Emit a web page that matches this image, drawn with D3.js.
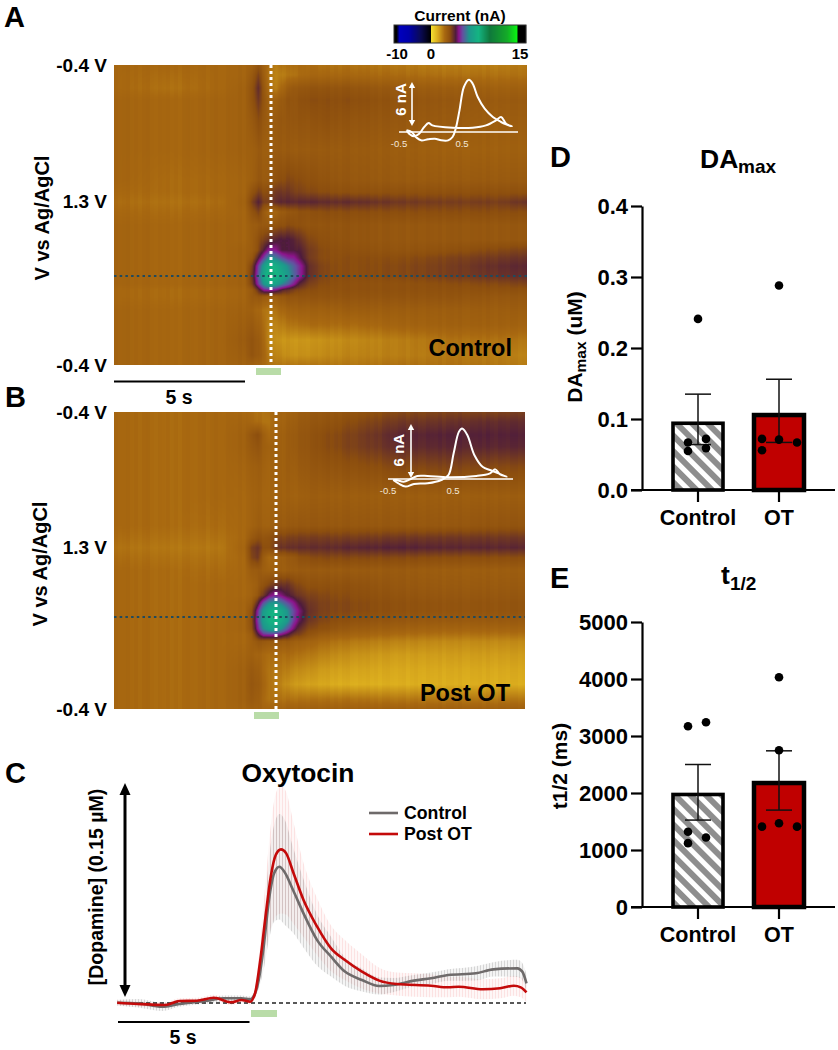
<!DOCTYPE html>
<html><head><meta charset="utf-8">
<script src="https://cdnjs.cloudflare.com/ajax/libs/d3/7.8.5/d3.min.js"></script>
<style>html,body{margin:0;padding:0;background:#fff}svg{display:block}text{font-family:"Liberation Sans",Arial,sans-serif;font-weight:700;fill:#000}</style>
</head><body>
<svg id="fig" width="838" height="1050" viewBox="0 0 838 1050"></svg>
<script>
// ---------- colour map (nA)
const currentStops=[-10,-9.3,-8.5,-6,-3,-0.05,0,1,2.15,3,3.9,4.4,5,6,7.5,9.3,12,13.5,13.8,15];
const currentColors=["#000000","#000000","#0000be","#0000aa","#0a0a5a","#000000","#f5e132","#dcae1e","#a86810","#8c4e0e","#4e1c3c","#8c148c","#6450a0","#1e968c","#14b482","#0f783c","#14aa28","#0af014","#000000","#000000"];
const colorbarTicks=[-10,0,15];
// ---------- heat-map grids
const timeGrid=[0,2.15,4.08,5.04,5.31,5.54,5.77,6,6.23,6.46,6.69,6.92,7.15,7.54,8.12,9.08,11,12.92,14.85,15.88];
const scanGrid=[0,3.3,7.7,11.7,18.3,28.3,38.3,42.3,45.7,49,53.3,58.3,61.7,64.3,67,70.3,73,75,77.3,81.7,86.7,91.7,96.7,100];
const currentControl=[
[2.2,2.2,2.2,2.3,2.4,2.8,2.4,2.0,1.8,2.0,2.0,2.1,2.1,2.1,2.0,2.0,1.9,1.8,1.8,1.9],
[2.2,2.1,2.2,2.3,2.6,3.2,2.5,1.9,1.7,1.8,1.9,2.0,2.1,2.2,2.2,2.2,2.1,2.0,2.0,2.0],
[2.2,2.0,2.2,2.4,2.8,3.6,2.7,2.0,1.8,2.2,2.5,2.7,2.7,2.8,2.8,2.8,2.6,2.5,2.4,2.4],
[2.3,2.2,2.3,2.4,2.8,3.4,2.8,2.3,2.4,2.6,2.8,2.8,2.9,3,3,3,2.8,2.7,2.6,2.6],
[2.3,2.2,2.3,2.4,2.6,3.0,2.7,2.5,2.6,2.7,2.7,2.8,2.8,2.8,2.9,2.8,2.7,2.6,2.5,2.5],
[2.3,2.2,2.3,2.4,2.4,2.6,2.5,2.5,2.6,2.6,2.6,2.6,2.6,2.6,2.6,2.6,2.5,2.4,2.4,2.4],
[2.3,2.1,2.2,2.3,2.4,2.7,2.6,2.7,2.9,3.0,3.1,3.1,3,2.9,2.8,2.7,2.6,2.6,2.6,2.6],
[2.2,2.1,2.2,2.3,2.8,3.2,3.0,3.1,3.4,3.4,3.4,3.3,3.2,3.1,3.0,2.9,2.9,2.9,2.9,2.9],
[2.1,2.0,2.1,2.4,3.2,3.8,3.3,3.3,3.6,3.7,3.7,3.7,3.7,3.7,3.6,3.6,3.4,3.3,3.3,3.5],
[2.2,2.1,2.2,2.3,2.8,3.2,2.6,2.2,2.3,2.6,2.7,2.8,2.9,2.9,3,3,3,3,3,3],
[2.3,2.2,2.3,2.3,2.5,2.6,2.7,2.7,2.8,2.9,3,3,2.9,2.8,2.8,2.8,2.7,2.7,2.7,2.7],
[2.3,2.2,2.3,2.3,2.5,2.9,3.3,3.6,3.8,3.9,3.9,3.8,3.5,3.1,2.9,2.8,2.7,2.7,2.7,2.7],
[2.3,2.2,2.3,2.4,2.5,3.0,3.9,4.6,4.4,3.9,3.9,3.9,3.8,3.3,3,2.9,2.8,2.9,3.1,3.2],
[2.3,2.2,2.3,2.4,2.7,3.8,4.9,6.1,5.6,5,4.6,4.5,4.0,3.3,3.0,3,3.0,3.2,3.4,3.5],
[2.3,2.2,2.3,2.4,3.2,4.8,6.4,7.7,7.2,6.5,5.8,5.2,4.6,3.5,3.1,3.0,3.1,3.3,3.6,3.7],
[2.3,2.2,2.3,2.4,3.4,5.0,6.9,8,7.6,7,6.2,5.3,4.6,3.5,3.1,3.0,3.1,3.3,3.5,3.6],
[2.3,2.2,2.3,2.4,3.2,4.7,6.1,7,6.5,5.8,5.2,4.5,3.7,3.2,3.0,2.9,2.9,3.0,3.1,3.2],
[2.2,2.1,2.2,2.3,2.6,3.5,4.5,4.6,4.3,3.8,3.5,3.3,3.1,3.0,2.9,2.9,2.9,2.9,2.9,2.9],
[2.2,2.1,2.2,2.3,2.6,2.7,2.6,2.5,2.5,2.7,2.8,2.8,2.8,2.8,2.8,2.8,2.8,2.8,2.7,2.7],
[2.3,2.2,2.3,2.4,2.4,2.2,2.0,1.9,2.0,2.2,2.3,2.4,2.4,2.4,2.4,2.5,2.5,2.5,2.5,2.5],
[2.3,2.2,2.3,2.5,2.6,2.4,2.1,1.7,1.7,1.8,1.9,2.0,2.0,2.1,2.1,2.1,2.3,2.4,2.4,2.3],
[2.3,2.2,2.3,2.6,2.8,2.6,2.2,1.6,1.5,1.4,1.4,1.4,1.4,1.4,1.5,1.6,1.8,2.0,2.0,1.9],
[2.3,2.2,2.3,2.5,2.8,2.6,2.3,1.8,1.7,1.6,1.5,1.5,1.5,1.5,1.6,1.7,1.8,1.9,1.8,1.7],
[2.3,2.2,2.3,2.4,2.4,2.3,2.2,2.0,1.9,1.9,1.9,1.9,1.9,1.9,1.9,1.9,2.0,2.0,1.9,1.8]];
const currentPostOT=[
[2.2,2.1,2.2,2.2,2.1,2.0,2.0,2.1,2.2,2.3,2.3,2.4,2.5,2.6,2.7,2.8,3.1,3.2,3.2,3.3],
[2.2,2.1,2.2,2.3,2.2,2.1,2,2,2.2,2.3,2.4,2.5,2.6,2.7,2.8,3.0,3.4,3.5,3.6,3.6],
[2.2,2.1,2.2,2.4,2.7,3,2.5,2.2,2.3,2.4,2.5,2.6,2.7,2.8,3.0,3.2,3.7,3.8,3.8,3.8],
[2.2,2.1,2.2,2.4,2.6,2.8,2.5,2.4,2.4,2.4,2.5,2.6,2.7,2.8,3.0,3.2,3.6,3.7,3.7,3.7],
[2.2,2.1,2.2,2.3,2.4,2.5,2.4,2.3,2.4,2.4,2.5,2.5,2.6,2.7,2.8,2.9,3.1,3.2,3.1,3.1],
[2.2,2.1,2.2,2.2,2.3,2.4,2.3,2.3,2.3,2.4,2.4,2.4,2.4,2.5,2.5,2.5,2.5,2.5,2.5,2.5],
[2.2,2.1,2.1,2.2,2.3,2.5,2.4,2.4,2.5,2.6,2.6,2.7,2.7,2.7,2.7,2.7,2.7,2.7,2.8,2.8],
[2.1,2.0,2.0,2.2,2.6,2.9,2.8,2.9,3.1,3.2,3.2,3.3,3.3,3.3,3.3,3.3,3.4,3.4,3.4,3.4],
[2.0,1.9,1.9,2.3,3.2,3.5,3,3,3.3,3.5,3.5,3.6,3.6,3.6,3.6,3.7,3.8,3.7,3.7,3.7],
[2.1,2.0,2.0,2.2,3.1,3.4,2.6,2.2,2.3,2.5,2.6,2.7,2.9,3,3.1,3.1,3.1,3.0,3,3],
[2.2,2.1,2.1,2.2,2.5,2.6,2.5,2.4,2.4,2.5,2.5,2.6,2.6,2.6,2.6,2.6,2.6,2.5,2.5,2.5],
[2.2,2.1,2.2,2.2,2.3,2.5,2.9,3.2,3.4,3.5,3.5,3.3,3.1,2.9,2.9,2.9,2.7,2.6,2.6,2.6],
[2.2,2.1,2.2,2.2,2.3,2.7,3.4,4.2,4.6,4.3,3.9,3.7,3.4,3.2,3.1,3,2.8,2.7,2.7,2.7],
[2.2,2.1,2.2,2.3,2.5,3.6,5,5.9,6.1,5.6,5,4.5,3.9,3.4,3.2,3.1,2.9,2.8,2.8,2.8],
[2.2,2.1,2.2,2.3,2.8,4.5,6.2,7.2,7.5,6.9,6,5,4.3,3.5,3.2,3.1,2.9,2.8,2.8,2.8],
[2.2,2.1,2.2,2.3,2.9,4.7,6.4,7.4,7.7,7.1,6.2,4.9,4.1,3.4,3.1,2.9,2.7,2.6,2.6,2.6],
[2.2,2.1,2.2,2.3,2.8,4.4,5.8,6.5,6.6,6,5.1,4.3,3.6,3.1,2.9,2.6,2.4,2.3,2.3,2.3],
[2.2,2.1,2.2,2.2,2.5,3.7,4.6,4.7,4.6,4.3,3.9,3.4,3.2,2.8,2.5,2.3,2.1,2,2,2],
[2.2,2.1,2.2,2.2,2.4,2.7,2.7,2.6,2.6,2.6,2.6,2.5,2.4,2.3,2.1,1.9,1.7,1.6,1.6,1.6],
[2.2,2.1,2.2,2.3,2.4,2.3,2.2,2.1,2.1,2.1,2.1,2.1,2,1.9,1.7,1.5,1.3,1.3,1.3,1.3],
[2.2,2.1,2.2,2.4,2.6,2.5,2.2,2,1.9,1.9,1.8,1.7,1.6,1.5,1.3,1.2,1.1,1.1,1.1,1.1],
[2.2,2.1,2.2,2.4,2.7,2.6,2.3,2,1.8,1.7,1.5,1.4,1.3,1.2,1.1,1,1,1,1,1],
[2.2,2.1,2.2,2.4,2.6,2.5,2.2,2,2,2,2,2,2,2,2,2,1.9,1.9,1.9,1.9],
[2.2,2.1,2.2,2.3,2.4,2.4,2.3,2.3,2.3,2.3,2.4,2.4,2.4,2.4,2.4,2.4,2.4,2.4,2.4,2.4]];
// faint per-sweep striping seen in the colour plots (nA)
const sweepStripes=[0.04,-0.02,0.01,0.05,-0.04,0.01,-0.05,0.03,0.06,-0.02,-0.04,0.02,0.0,0.04,-0.03,0.01,-0.06,0.03,0.05,-0.01,-0.03,0.02,0.04,-0.05,0.01,0.05,-0.02,-0.04,0.03,0.0,-0.02,0.04,-0.05,0.02,0.03,-0.01,0.05,-0.03,-0.04,0.02,0.01,0.04,-0.03,0.05,-0.01,-0.05,0.03,0.01,-0.02,0.04];
const voltageLabels=["-0.4 V","1.3 V","-0.4 V"];
// ---------- inset voltammograms (V, nA)
const cvVoltsA=[-0.38,-0.30,-0.22,-0.15,-0.04,0.07,0.17,0.28,0.35,0.40,0.46,0.53,0.61,0.67,0.75,0.86,0.99,1.12,1.20,1.29,1.20,1.12,1.04,0.88,0.67,0.35,0.03,-0.03,-0.10,-0.18,-0.26,-0.34,-0.38];
const cvCurrentA=[0.2,0,-0.68,-1,-0.88,-0.8,-1,-1,-0.6,0.4,2.6,5.4,6.28,5.8,4.2,2.8,1.8,1.2,0.92,0.68,1.0,1.8,1.4,0.8,0.52,0.52,0.8,1.08,0.6,-0.2,-0.52,-0.2,0.2];
const cvVoltsB=[-0.42,-0.34,-0.23,-0.10,0.11,0.32,0.43,0.51,0.59,0.64,0.72,0.83,0.96,1.07,1.2,1.33,1.22,1.15,1.07,0.86,0.43,0.11,-0.05,-0.16,-0.26,-0.37,-0.42];
const cvCurrentB=[-0.11,-0.47,-0.83,-0.54,-0.47,-0.11,0.43,2.8,5.14,5.5,4.8,2.6,1.3,0.98,0.62,0.25,0.54,1.05,0.62,0.33,0.18,0.33,0.33,-0.04,-0.29,-0.11,-0.11];
// ---------- panel C (s, µM)
const controlTime=[0,0.79,1.71,2.37,3.42,4.08,4.74,5.07,5.2,5.4,5.59,5.79,5.99,6.19,6.38,6.71,7.11,7.63,8.16,8.69,9.34,10,10.53,11.32,11.98,12.63,13.69,14.35,15.27,15.46,15.62];
const controlTrace=[0.0002,-0.0002,-0.0026,-0.0007,0.0016,0.0033,0.0033,0.0026,0.0044,0.0161,0.0395,0.0722,0.0909,0.0955,0.092,0.0792,0.0628,0.0441,0.0325,0.022,0.0161,0.0119,0.0126,0.0157,0.0173,0.0196,0.0208,0.0236,0.0243,0.022,0.0138];
const controlSem=[0.002,0.003,0.003,0.002,0.002,0.002,0.002,0.002,0.002,0.006,0.016,0.028,0.034,0.037,0.037,0.03,0.024,0.018,0.014,0.01,0.008,0.006,0.005,0.004,0.004,0.004,0.005,0.005,0.006,0.006,0.006];
const otTime=[0,0.79,1.84,2.37,3.03,3.69,4.34,4.74,5.07,5.26,5.46,5.66,5.86,6.05,6.25,6.45,6.71,7.11,7.63,8.16,8.69,9.34,10,10.66,11.98,12.63,13.03,13.95,14.61,15.14,15.4,15.62];
const otTrace=[0.0002,-0.0007,-0.0014,0.0014,0.0016,0.0037,0.0005,0.0021,0.0009,0.0068,0.0301,0.0605,0.0885,0.1037,0.1077,0.1049,0.092,0.0722,0.0535,0.0383,0.0301,0.022,0.0157,0.0133,0.0121,0.011,0.0114,0.0096,0.0103,0.0121,0.011,0.0075];
const otSem=[0.002,0.002,0.002,0.002,0.002,0.002,0.002,0.002,0.002,0.004,0.012,0.024,0.036,0.043,0.045,0.043,0.036,0.026,0.02,0.016,0.014,0.012,0.009,0.008,0.008,0.007,0.007,0.007,0.007,0.007,0.007,0.007];
const traceNames=["Control","Post OT"];
// ---------- bar panels
const groups=["Control","OT"];
const daMean=[0.094,0.1056], daUpper=[0.135,0.156], daLower=[0.064,0.067];
const daDots=[[[-10,0.067],[-10,0.055],[0,0.241],[8,0.072],[8,0.059]],[[-17,0.072],[-17,0.056],[0,0.071],[0,0.288],[18,0.067]]];
const daTicks=[0,0.1,0.2,0.3,0.4];
const halfMean=[1974,2175], halfUpper=[2500,2740], halfLower=[1525,1700];
const halfDots=[[[-10,3170],[-10,1320],[-10,1120],[8,3240],[8,1220]],[[-17,1410],[0,4030],[0,2750],[0,1470],[18,1410]]];
const halfTicks=[0,1000,2000,3000,4000,5000];

const svg=d3.select("#fig");
const defs=svg.append("defs");
const hatch=defs.append("pattern").attr("id","hatch").attr("patternUnits","userSpaceOnUse").attr("width",11).attr("height",11).attr("patternTransform","rotate(-45)");
hatch.append("rect").attr("width",11).attr("height",11).attr("fill","#fff");
hatch.append("rect").attr("width",6).attr("height",11).attr("fill","#8e8e8e");
[["semGrey","rgba(130,130,130,.27)"],["semRed","rgba(240,140,140,.2)"]].forEach(([id,c])=>{
  const p=defs.append("pattern").attr("id",id).attr("patternUnits","userSpaceOnUse").attr("width",3).attr("height",10);
  p.append("rect").attr("width",3).attr("height",10).attr("fill",id=="semGrey"?"rgba(150,150,150,.1)":"rgba(240,140,140,.07)");
  p.append("rect").attr("width",1).attr("height",10).attr("fill",c);
});
const color=d3.scaleLinear().domain(currentStops).range(currentColors).interpolate(d3.interpolateRgb).clamp(true);

function text(g,x,y,s,size,anchor,rot,fill){
  const t=g.append("text").attr("font-size",size).attr("text-anchor",anchor||"start").attr("dominant-baseline","central");
  if(rot) t.attr("transform",`translate(${x},${y}) rotate(${rot})`); else t.attr("x",x).attr("y",y);
  if(fill) t.style("fill",fill);
  t.text(s); return t;
}
function arrow(g,x,y0,y1,w,hw,hl,col){
  g.append("line").attr("x1",x).attr("x2",x).attr("y1",y0+hl-1).attr("y2",y1-hl+1).attr("stroke",col).attr("stroke-width",w);
  g.append("path").attr("fill",col).attr("d",`M${x},${y0}L${x-hw},${y0+hl}L${x+hw},${y0+hl}Z`);
  g.append("path").attr("fill",col).attr("d",`M${x},${y1}L${x-hw},${y1-hl}L${x+hw},${y1-hl}Z`);
}
function heat(matrix,o){
  const g=svg.append("g");
  const x=d3.scaleLinear().domain([0,15.88]).range([o.x0,o.x1]);
  const y=d3.scaleLinear().domain([0,100]).range([o.y0,o.y1]);
  const W=o.x1-o.x0,H=o.y1-o.y0;
  const cv=document.createElement("canvas");cv.width=W;cv.height=H;
  const ctx=cv.getContext("2d"),img=ctx.createImageData(W,H);
  for(let j=0;j<H;j++){
    const s=y.invert(o.y0+j+.5);
    const r=Math.min(d3.bisectRight(scanGrid,s)-1,scanGrid.length-2);
    const fy=(s-scanGrid[r])/(scanGrid[r+1]-scanGrid[r]);
    for(let i=0;i<W;i++){
      const t=x.invert(o.x0+i+.5);
      const c=Math.min(d3.bisectRight(timeGrid,t)-1,timeGrid.length-2);
      const fx=(t-timeGrid[c])/(timeGrid[c+1]-timeGrid[c]);
      const base=(matrix[r][c]*(1-fx)+matrix[r][c+1]*fx)*(1-fy)+(matrix[r+1][c]*(1-fx)+matrix[r+1][c+1]*fx)*fy;
      const v=base<3.9?base+sweepStripes[Math.floor(i/4)%sweepStripes.length]:base;
      const k=d3.rgb(color(v)),p=(j*W+i)*4;
      img.data[p]=k.r;img.data[p+1]=k.g;img.data[p+2]=k.b;img.data[p+3]=255;
    }
  }
  ctx.putImageData(img,0,0);
  g.append("image").attr("x",o.x0).attr("y",o.y0).attr("width",W).attr("height",H).attr("href",cv.toDataURL()).style("filter","blur(.5px)");
  g.append("line").attr("x1",o.x0).attr("x2",o.x1).attr("y1",o.dotY).attr("y2",o.dotY).attr("stroke","#1f4a5e").attr("stroke-width",2.2).attr("stroke-dasharray","2.5,3.2");
  g.append("line").attr("x1",o.dotX).attr("x2",o.dotX).attr("y1",o.y0).attr("y2",o.y1).attr("stroke","#fff").attr("stroke-width",3).attr("stroke-dasharray","3,3");
  g.append("rect").attr("x",o.gx).attr("y",o.y1+3).attr("width",25).attr("height",7).attr("fill","#b9dca8");
  [o.y0,(o.y0+o.y1)/2+(o.midOff||0),o.y1].forEach((yy,i)=>text(g,o.x0-7,yy,voltageLabels[i],19,"end"));
  text(g,o.vx,o.vy,"V vs Ag/AgCl",20,"middle",-90);
  text(g,o.x1-15,o.labelY,o.label,23.5,"end");
  // inset
  const ix=d3.scaleLinear().domain([-0.5,0.5]).range([o.cv.x,o.cv.x+o.cv.perV]);
  const iy=d3.scaleLinear().domain([0,6]).range([o.cv.y,o.cv.y-o.cv.six]);
  g.append("line").attr("x1",o.cv.x).attr("x2",o.cv.xEnd).attr("y1",iy(0)).attr("y2",iy(0)).attr("stroke","#fff").attr("stroke-width",1.4);
  arrow(g,o.cv.ax,iy(6),iy(0)-o.cv.gap,1.6,3.2,6,"#fff");
  g.append("path").datum(o.cv.v).attr("fill","none").attr("stroke","#fff").attr("stroke-width",2).attr("stroke-linejoin","round")
    .attr("d",d3.line().curve(d3.curveCatmullRom).x(d=>ix(d)).y((d,i)=>iy(o.cv.i[i])));
  text(g,ix(-0.5),iy(0)+11,"-0.5",9.5,"middle",null,"#f4e8d8").style("font-weight",400);
  text(g,ix(0.5),iy(0)+11,"0.5",9.5,"middle",null,"#f4e8d8").style("font-weight",400);
  text(g,o.cv.ax-o.cv.off,iy(o.cv.lab),"6 nA",15,"middle",-90,"#fff");
}
heat(currentControl,{x0:114,x1:527,y0:65,y1:365,dotX:271,dotY:276,gx:256,label:"Control",labelY:348,vx:42,vy:218,midOff:-14,
  cv:{x:399,perV:63,y:132,six:50,xEnd:518,ax:412,gap:6,off:12,lab:3.9,v:cvVoltsA,i:cvCurrentA}});
heat(currentPostOT,{x0:114,x1:525,y0:412,y1:709,dotX:276,dotY:617,gx:254,label:"Post OT",labelY:693,vx:40,vy:564,midOff:-13,
  cv:{x:388,perV:65,y:479,six:55,xEnd:513,ax:411,gap:1,off:13,lab:3.15,v:cvVoltsB,i:cvCurrentB}});
// colourbar
(function(){
  const g=svg.append("g");
  const x=d3.scaleLinear().domain([-10,0,15]).range([394,431,526]);
  const vals=d3.range(394,526).map(p=>x.invert(p+.5));
  g.selectAll("rect").data(vals).join("rect").attr("x",d=>Math.floor(x(d))).attr("y",25).attr("width",1.2).attr("height",18).attr("fill",d=>color(d));
  g.append("rect").attr("x",394).attr("y",25).attr("width",132).attr("height",18).attr("fill","none").attr("stroke","#333").attr("stroke-width",1);
  text(g,460,15,"Current (nA)",15.5,"middle");
  const pos=[397,431,520];
  colorbarTicks.forEach((t,i)=>text(g,pos[i],53,String(t),15,"middle"));
})();
// scale bars
function scale(g,x0,x1,y,ty,tx){g.append("line").attr("x1",x0).attr("x2",x1).attr("y1",y).attr("y2",y).attr("stroke","#000").attr("stroke-width",2);text(g,tx,ty,"5 s",19.5,"middle");}
scale(svg,114,245,381.5,397,179);
// panel labels
[["A",4,17],["B",5,397],["C",5,773],["D",550,157],["E",550,578]].forEach(d=>text(svg,d[1],d[2],d[0],29,"start"));
// panel C
(function(){
  const g=svg.append("g");
  const x=d3.scaleLinear().domain([0,15.62]).range([117.2,526.5]);
  const y=d3.scaleLinear().domain([0,0.15]).range([1003,789]);
  const band=(t,m,e,f)=>g.append("path").datum(t).attr("fill",`url(#${f})`).attr("d",d3.area().curve(d3.curveMonotoneX).x(d=>x(d)).y0((d,i)=>y(m[i]-e[i])).y1((d,i)=>y(m[i]+e[i])));
  band(otTime,otTrace,otSem,"semRed");
  band(controlTime,controlTrace,controlSem,"semGrey");
  g.append("line").attr("x1",118).attr("x2",526).attr("y1",y(0)).attr("y2",y(0)).attr("stroke","#222").attr("stroke-width",1.4).attr("stroke-dasharray","4,3");
  const ln=(t,m,c)=>g.append("path").datum(t).attr("fill","none").attr("stroke",c).attr("stroke-width",2.6).attr("d",d3.line().curve(d3.curveMonotoneX).x(d=>x(d)).y((d,i)=>y(m[i])));
  ln(controlTime,controlTrace,"#6e6a6a");
  ln(otTime,otTrace,"#c40a0a");
  g.append("rect").attr("x",251).attr("y",1010).attr("width",26).attr("height",7).attr("fill","#b9dca8");
  scale(g,118,249.5,1022,1037,183);
  arrow(g,125,783,997,3,5.5,12,"#000");
  text(g,298,773,"Oxytocin",26.4,"middle");
  text(g,96,887,"[Dopamine] (0.15 µM)",19.5,"middle",-90);
  [["#6e6a6a",813],["#c40a0a",834]].forEach((d,i)=>{
    g.append("line").attr("x1",369).attr("x2",398).attr("y1",d[1]).attr("y2",d[1]).attr("stroke",d[0]).attr("stroke-width",2.6);
    text(g,404,d[1],traceNames[i],17.7,"start");
  });
})();
// bars
function bars(o){
  const g=svg.append("g");
  const y=d3.scaleLinear().domain(o.domain).range([o.y0,o.y1]);
  const x=d3.scaleBand().domain(groups).range([657.5,819.5]);
  const cx=c=>x(c)+x.bandwidth()/2;
  const ya=g.append("g").attr("transform","translate(642,0)").call(d3.axisLeft(y).tickValues(o.ticks).tickSize(11).tickFormat(o.fmt).tickSizeOuter(0));
  ya.selectAll("line").attr("stroke","#000").attr("stroke-width",2.2);
  ya.select(".domain").attr("stroke","#000").attr("stroke-width",2.2);
  ya.selectAll("text").attr("font-size",22).attr("x",-14).style("font-family",'"Liberation Sans",Arial,sans-serif');
  g.selectAll("rect.b").data(groups).join("rect").attr("class","b").attr("x",c=>cx(c)-25).attr("width",50)
    .attr("y",(c,i)=>y(o.mean[i])).attr("height",(c,i)=>y(0)-y(o.mean[i]))
    .attr("fill",(c,i)=>i?"#c00000":"url(#hatch)").attr("stroke","#000").attr("stroke-width",(c,i)=>i?4.5:3.6);
  const xa=g.append("g").attr("transform",`translate(0,${o.y0})`).call(d3.axisBottom(x).tickSize(12).tickSizeOuter(0));
  xa.select(".domain").remove();
  xa.selectAll("line").attr("stroke","#000").attr("stroke-width",2.2);
  xa.selectAll("text").attr("font-size",21.5).attr("y",20).style("font-family",'"Liberation Sans",Arial,sans-serif').attr("dy",".71em");
  g.append("line").attr("x1",631).attr("x2",835).attr("y1",o.y0).attr("y2",o.y0).attr("stroke","#000").attr("stroke-width",2.2);
  groups.forEach((c,i)=>{
    const X=cx(c);
    g.append("line").attr("x1",X).attr("x2",X).attr("y1",y(o.upper[i])).attr("y2",y(o.lower[i])).attr("stroke","#111").attr("stroke-width",1.5);
    [o.upper[i],o.lower[i]].forEach(v=>g.append("line").attr("x1",X-13).attr("x2",X+13).attr("y1",y(v)).attr("y2",y(v)).attr("stroke","#111").attr("stroke-width",1.5));
    g.selectAll(null).data(o.dots[i]).join("circle").attr("cx",d=>X+d[0]).attr("cy",d=>y(d[1])).attr("r",4.3).attr("fill","#000");
  });
  return g;
}
const gd=bars({domain:[0,0.4],y0:490,y1:206,ticks:daTicks,fmt:d3.format(".1f"),mean:daMean,upper:daUpper,lower:daLower,dots:daDots});
text(gd,700,159,"DA",26.5,"start");
text(gd,738,166,"max",19,"start");
const dl=text(gd,574,347,"",21,"middle",-90);
dl.append("tspan").text("DA");
dl.append("tspan").text("max").attr("font-size",15.5).attr("dy",6);
dl.append("tspan").text(" (uM)").attr("dy",-6);
const ge=bars({domain:[0,5000],y0:907,y1:622,ticks:halfTicks,fmt:d3.format("d"),mean:halfMean,upper:halfUpper,lower:halfLower,dots:halfDots});
text(ge,721,575,"t",26.5,"start");
text(ge,730,583,"1/2",19,"start");
text(ge,559,766,"t1/2 (ms)",21,"middle",-90);
</script></body></html>
